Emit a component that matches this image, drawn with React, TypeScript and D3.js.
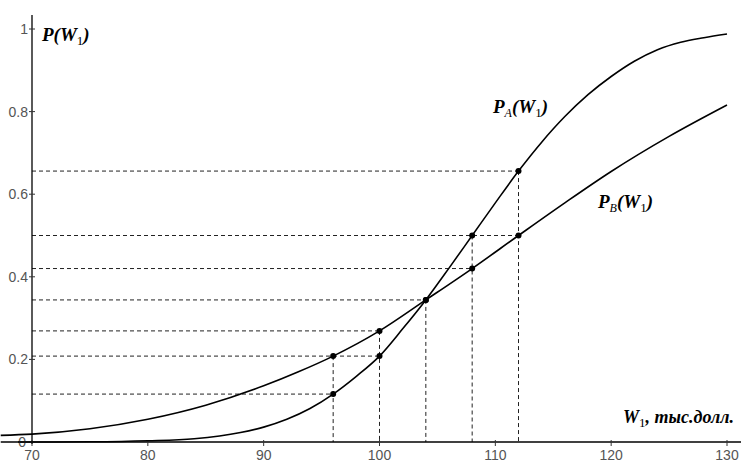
import React from "react";
import * as d3 from "d3";

const W = 741;
const H = 462;

const xTicks = [70, 80, 90, 100, 110, 120, 130];
const yTicks = [0, 0.2, 0.4, 0.6, 0.8, 1];
const yTickLabels = ["0", "0.2", "0.4", "0.6", "0.8", "1"];

const curveAx = [67.3, 70, 75, 80, 84, 88, 90, 92, 94, 96, 98, 100, 102, 104, 106, 108, 110, 112, 114, 116, 118, 120, 122, 124, 126, 128, 130];
const curveAy = [0, 0, 0.0005, 0.003, 0.008, 0.023, 0.036, 0.055, 0.081, 0.116, 0.159, 0.208, 0.274, 0.344, 0.421, 0.5, 0.579, 0.656, 0.726, 0.788, 0.841, 0.885, 0.922, 0.95, 0.968, 0.979, 0.988];

const curveBx = [67.3, 70, 75, 80, 85, 90, 93, 96, 100, 104, 108, 112, 116, 120, 125, 130];
const curveBy = [0.016, 0.019, 0.032, 0.055, 0.089, 0.136, 0.17, 0.208, 0.269, 0.344, 0.42, 0.5, 0.579, 0.655, 0.74, 0.816];

const markX = [96, 100, 104, 108, 112];
const markA = [0.116, 0.208, 0.344, 0.5, 0.656];
const markB = [0.208, 0.269, 0.344, 0.42, 0.5];

export default function App() {
  const x = d3.scaleLinear().domain([70, 130]).range([32, 727]);
  const y = d3.scaleLinear().domain([0, 1]).range([442, 29]);

  const line = d3
    .line<[number, number]>()
    .x((d) => x(d[0]))
    .y((d) => y(d[1]))
    .curve(d3.curveMonotoneX);

  const aPts: [number, number][] = curveAx.map((v, i) => [v, curveAy[i]]);
  const bPts: [number, number][] = curveBx.map((v, i) => [v, curveBy[i]]);

  const points: [number, number][] = [];
  markX.forEach((v, i) => {
    points.push([v, markA[i]]);
    points.push([v, markB[i]]);
  });

  const hMap = new Map<number, number>();
  points.forEach(([px, py]) => {
    hMap.set(py, Math.max(hMap.get(py) ?? -Infinity, px));
  });
  const vMap = new Map<number, number>();
  points.forEach(([px, py]) => {
    vMap.set(px, Math.max(vMap.get(px) ?? -Infinity, py));
  });

  const tickFont = "'Liberation Sans', Arial, sans-serif";
  const labFont = "'Liberation Serif', 'Times New Roman', serif";
  const labSize = 19;

  return (
    <svg
      width={W}
      height={H}
      style={{ position: "absolute", left: 0, top: 0, background: "#fff" }}
    >
      <rect x={0} y={0} width={W} height={H} fill="#fff" />
      {Array.from(hMap.entries()).map(([py, px]) => (
        <line
          key={"h" + py}
          x1={x(70)}
          x2={x(px)}
          y1={y(py)}
          y2={y(py)}
          stroke="#222"
          strokeWidth={1}
          strokeDasharray="4,3"
        />
      ))}
      {Array.from(vMap.entries()).map(([px, py]) => (
        <line
          key={"v" + px}
          x1={x(px)}
          x2={x(px)}
          y1={y(py)}
          y2={y(0)}
          stroke="#222"
          strokeWidth={1}
          strokeDasharray="4,3"
        />
      ))}
      <line x1={18} x2={W} y1={y(0)} y2={y(0)} stroke="#000" strokeWidth={1.3} />
      <line x1={x(70)} x2={x(70)} y1={15} y2={y(0) + 2} stroke="#000" strokeWidth={1.3} />
      {xTicks.map((t) => (
        <g key={"xt" + t}>
          <line x1={x(t)} x2={x(t)} y1={y(0) - 2} y2={y(0) + 4} stroke="#333" />
          <text
            x={x(t)}
            y={460}
            textAnchor="middle"
            fontFamily={tickFont}
            fontSize={14}
            fill="#555"
          >
            {t}
          </text>
        </g>
      ))}
      {yTicks.map((t, i) => (
        <g key={"yt" + t}>
          <line x1={x(70) - 3} x2={x(70) + 3} y1={y(t)} y2={y(t)} stroke="#333" />
          <text
            x={i === 0 ? 26 : 28}
            y={y(t) + 5}
            textAnchor="end"
            fontFamily={tickFont}
            fontSize={14}
            fill="#555"
          >
            {yTickLabels[i]}
          </text>
        </g>
      ))}
      <path d={line(aPts) || ""} fill="none" stroke="#000" strokeWidth={1.6} />
      <path d={line(bPts) || ""} fill="none" stroke="#000" strokeWidth={1.6} />
      {points.map(([px, py], i) => (
        <circle key={"p" + i} cx={x(px)} cy={y(py)} r={3} fill="#000" />
      ))}
      <text x={42} y={41} fontFamily={labFont} fontSize={labSize} fontWeight="bold" fontStyle="italic" fill="#000">
        P(W<tspan fontSize={13} fontWeight="normal" fontStyle="normal" dy={4}>1</tspan>
        <tspan dy={-4}>)</tspan>
      </text>
      <text x={493} y={113} fontFamily={labFont} fontSize={labSize} fontWeight="bold" fontStyle="italic" fill="#000">
        P<tspan fontSize={12} fontWeight="normal" dy={4}>A</tspan>
        <tspan dy={-4}>(W</tspan>
        <tspan fontSize={13} fontWeight="normal" fontStyle="normal" dy={4}>1</tspan>
        <tspan dy={-4}>)</tspan>
      </text>
      <text x={598} y={208} fontFamily={labFont} fontSize={labSize} fontWeight="bold" fontStyle="italic" fill="#000">
        P<tspan fontSize={12} fontWeight="normal" dy={4}>B</tspan>
        <tspan dy={-4}>(W</tspan>
        <tspan fontSize={13} fontWeight="normal" fontStyle="normal" dy={4}>1</tspan>
        <tspan dy={-4}>)</tspan>
      </text>
      <text x={623} y={423} fontFamily={labFont} fontSize={18} fontWeight="bold" fontStyle="italic" fill="#000">
        W<tspan fontSize={13} fontWeight="normal" fontStyle="normal" dy={4}>1</tspan>
        <tspan dy={-4}>, тыс.долл.</tspan>
      </text>
    </svg>
  );
}
